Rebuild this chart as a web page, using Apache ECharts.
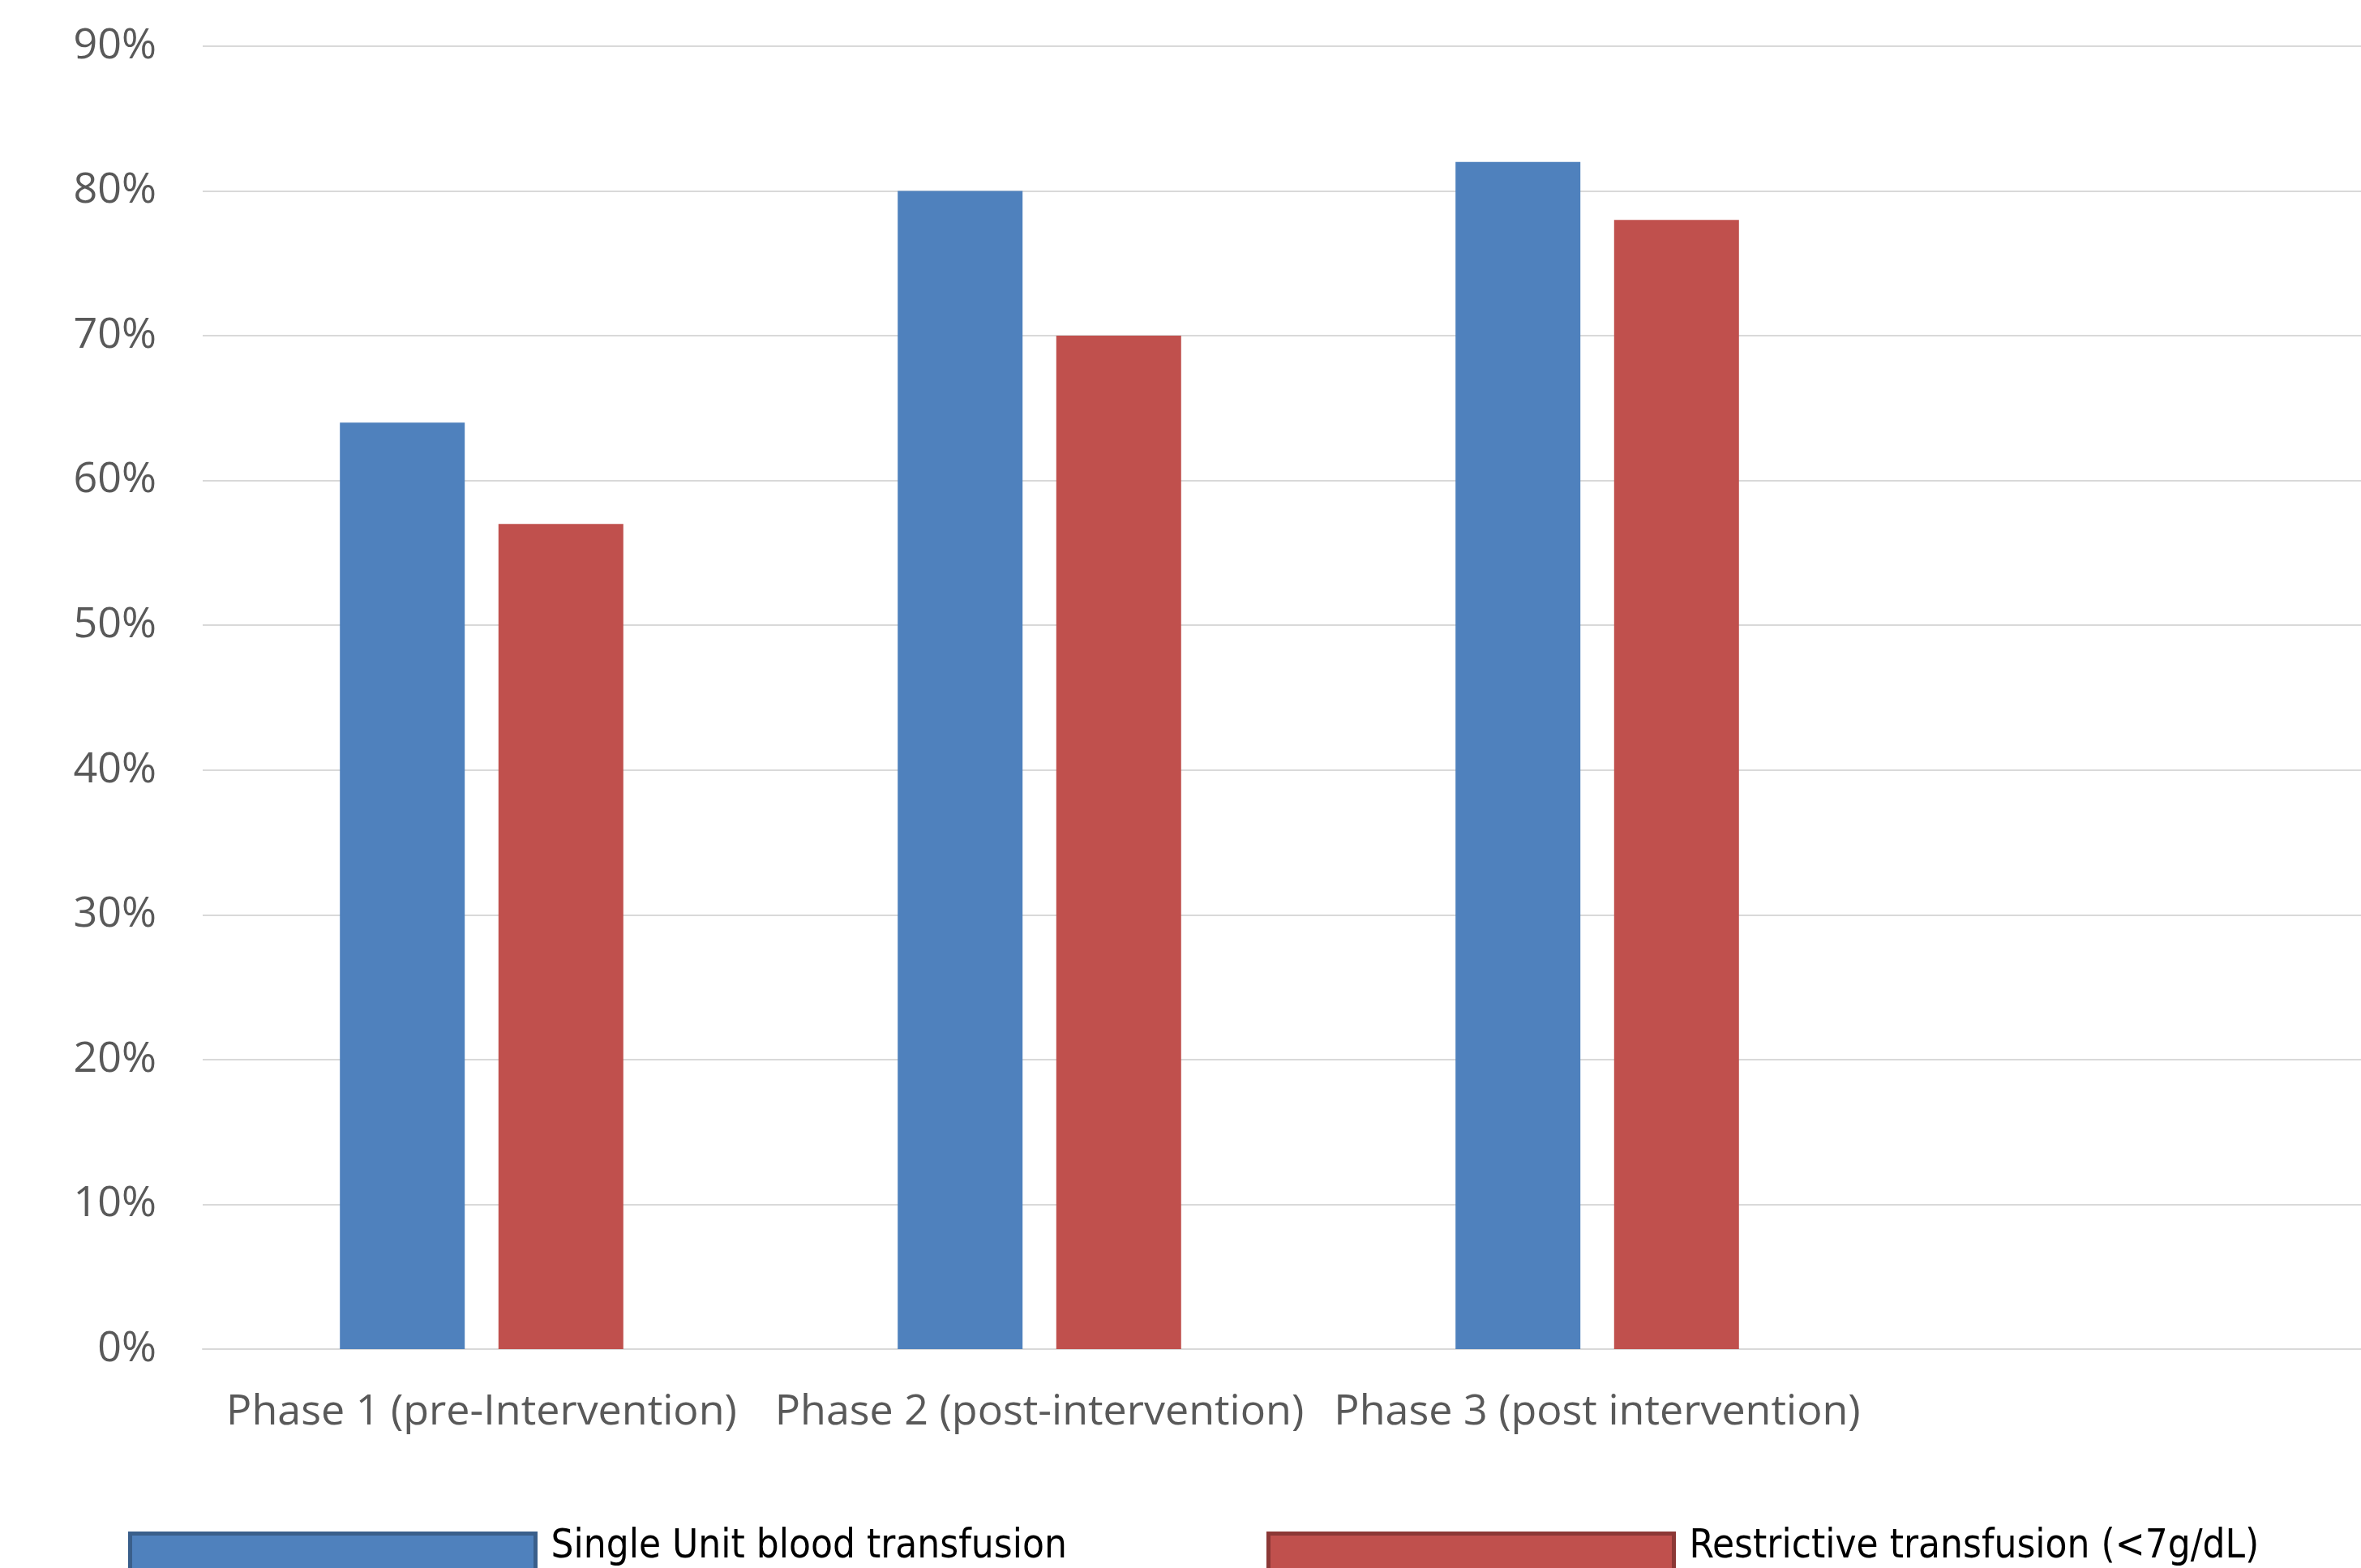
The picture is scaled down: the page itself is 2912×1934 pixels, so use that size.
<!DOCTYPE html>
<html>
<head>
<meta charset="utf-8">
<script src="https://cdn.jsdelivr.net/npm/echarts@6/dist/echarts.min.js"></script>
<style>
html,body{margin:0;padding:0;background:#fff;}
#chart{width:2912px;height:1934px;}
</style>
</head>
<body>
<div id="chart"></div>
<script>
const categories = ['Phase 1 (pre-Intervention)', 'Phase 2 (post-intervention)', 'Phase 3 (post intervention)', ''];
const singleUnit = [64, 80, 82, null];
const restrictive = [57, 70, 78, null];
const yTicks = { min: 0, max: 90, interval: 10 };
const seriesNames = ['Single Unit blood transfusion', 'Restrictive transfusion (<7g/dL)'];

const chart = echarts.init(document.getElementById('chart'), null, { renderer: 'canvas' });
const legendFont = "'Liberation Sans Narrow', 'DejaVu Sans Condensed', 'Open Sans', sans-serif";
function legendOf(i, left, color, border) {
  return {
    left: left, top: 1884, orient: 'horizontal', padding: 0,
    itemWidth: 500, itemHeight: 80, itemGap: 0,
    data: [{ name: seriesNames[i], itemStyle: { color: color, borderColor: border, borderWidth: 5 } }],
    formatter: '{t|{name}}',
    textStyle: {
      fontFamily: legendFont, fontSize: 49, color: '#000',
      rich: { t: { fontFamily: legendFont, fontSize: 49, color: '#000', padding: [0, 0, 46, 14] } }
    },
    icon: 'rect', selectedMode: false
  };
}
chart.setOption({
  animation: false,
  backgroundColor: '#fff',
  grid: { left: 250, top: 57, width: 2752, bottom: 270, outerBoundsMode: 'none', containLabel: false },
  legend: [legendOf(0, 158, '#4F81BD', '#3A5F8B'), legendOf(1, 1562, '#C0504D', '#8C3836')],
  xAxis: {
    type: 'category', data: categories,
    axisTick: { show: false },
    axisLine: { lineStyle: { color: '#d9d9d9', width: 2 } },
    axisLabel: { color: '#595959', fontSize: 52, fontFamily: "'Open Sans', sans-serif", margin: 52, interval: 0 }
  },
  yAxis: {
    type: 'value', min: yTicks.min, max: yTicks.max, interval: yTicks.interval,
    axisLine: { show: false }, axisTick: { show: false },
    splitLine: { lineStyle: { color: '#d9d9d9', width: 2 } },
    axisLabel: { color: '#595959', fontSize: 52, fontFamily: "'Open Sans', sans-serif", margin: 57, formatter: '{value}%' }
  },
  series: [
    { name: seriesNames[0], type: 'bar', data: singleUnit, barWidth: 154, barGap: '27%', itemStyle: { color: '#4F81BD' } },
    { name: seriesNames[1], type: 'bar', data: restrictive, barWidth: 154, itemStyle: { color: '#C0504D' } }
  ]
});
</script>
</body>
</html>
